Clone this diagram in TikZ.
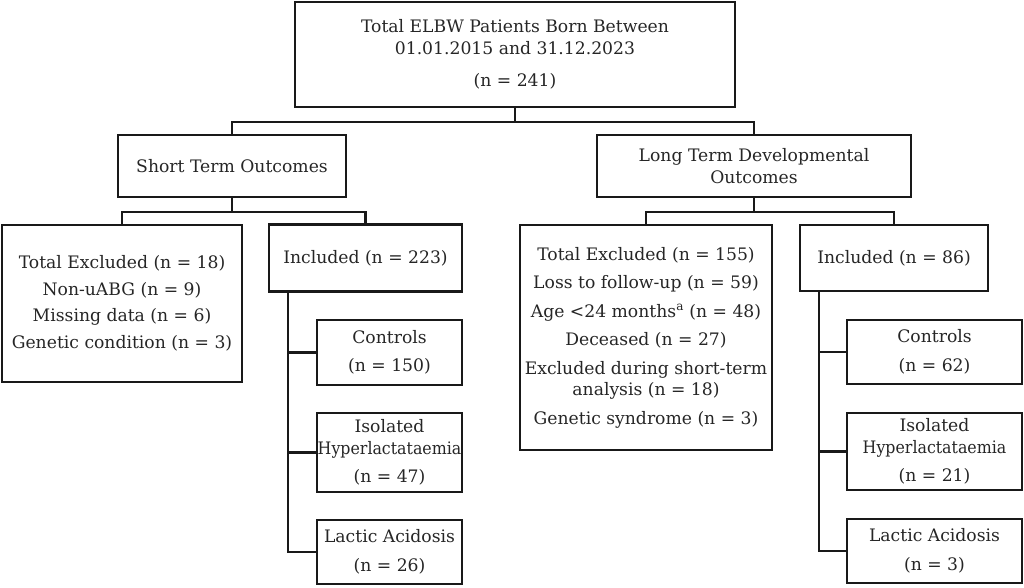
\documentclass[tikz,border=0pt]{standalone}
\usepackage{graphicx}
\usepackage{fontspec}
\setmainfont{DejaVu Serif}
\newcommand{\hyperl}{\scalebox{0.92}[1]{Hyperlactataemia}}
\begin{document}
\begin{tikzpicture}[x=1pt,y=-1pt,
  box/.style={draw=black!90, line width=2.2pt, align=center, inner sep=0pt, text=black!85,
    font=\fontsize{17.2}{21.5}\selectfont},
  conn/.style={draw=black!90, line width=2.2pt}]
\useasboundingbox[fill=white] (0,0) rectangle (1024,588);
\node[box, minimum width=440, minimum height=105] (top) at (515,54.5)
  {Total ELBW Patients Born Between\\01.01.2015 and 31.12.2023\\[11pt](n = 241)};
\node[box, minimum width=228, minimum height=62] (short) at (232,166) {Short Term Outcomes};
\node[box, minimum width=314, minimum height=62] (long) at (754,166) {Long Term Developmental\\Outcomes};
\node[box, minimum width=240, minimum height=157] (exclL) at (122,303.5)
  {Total Excluded (n = 18)\\[5pt]Non-uABG (n = 9)\\[5pt]Missing data (n = 6)\\[5pt]Genetic condition (n = 3)};
\node[box, minimum width=193, minimum height=67] (inclL) at (365.5,258) {Included (n = 223)};
\node[box, minimum width=252, minimum height=225] (exclR) at (646,337.5)
  {Total Excluded (n = 155)\\[7pt]Loss to follow-up (n = 59)\\[7pt]Age <24 months\textsuperscript{a} (n = 48)\\[7pt]Deceased (n = 27)\\[7pt]Excluded during short-term\\analysis (n = 18)\\[7pt]Genetic syndrome (n = 3)};
\node[box, minimum width=188, minimum height=66] (inclR) at (894,258) {Included (n = 86)};
\node[box, minimum width=145, minimum height=65] (ctrlL) at (389.5,352.5) {Controls\\[7pt](n = 150)};
\node[box, minimum width=145, minimum height=79] (isoL) at (389.5,452.5) {Isolated\\\hyperl\\[7pt](n = 47)};
\node[box, minimum width=145, minimum height=64] (lacL) at (389.5,552) {Lactic Acidosis\\[7pt](n = 26)};
\node[box, minimum width=175, minimum height=64] (ctrlR) at (934.5,352) {Controls\\[7pt](n = 62)};
\node[box, minimum width=175, minimum height=77] (isoR) at (934.5,451.5) {Isolated\\\hyperl\\[7pt](n = 21)};
\node[box, minimum width=175, minimum height=64] (lacR) at (934.5,551) {Lactic Acidosis\\[7pt](n = 3)};
\coordinate (j1) at (515,122);
\coordinate (j2) at (232,212);
\coordinate (j3) at (754,212);
\coordinate (tL) at (288,0);
\coordinate (tR) at (819,0);
\draw[conn] (top.south) -- (j1);
\draw[conn] (short.north) |- (j1) -| (long.north);
\draw[conn] (short.south) -- (j2);
\draw[conn] (exclL.north) |- (j2) -| (inclL.north);
\draw[conn] (long.south) -- (j3);
\draw[conn] (exclR.north) |- (j3) -| (inclR.north);
\draw[conn] (tL |- inclL.south) |- (lacL.west);
\draw[conn] (tL |- ctrlL.west) -- (ctrlL.west);
\draw[conn] (tL |- isoL.west) -- (isoL.west);
\draw[conn] (tR |- inclR.south) |- (lacR.west);
\draw[conn] (tR |- ctrlR.west) -- (ctrlR.west);
\draw[conn] (tR |- isoR.west) -- (isoR.west);
\end{tikzpicture}
\end{document}
